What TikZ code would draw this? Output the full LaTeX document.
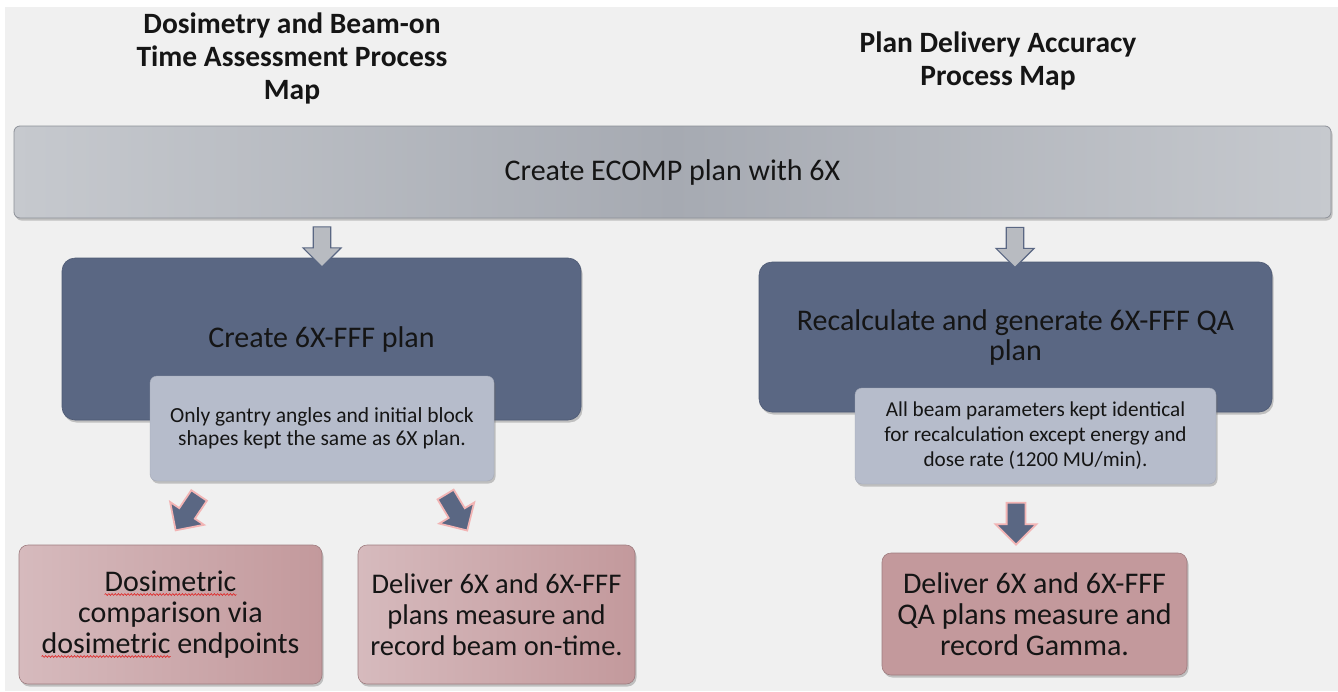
\documentclass[tikz,border=0pt]{standalone}
\usepackage{fontspec}
\setmainfont{Carlito}
\usetikzlibrary{shapes.arrows,shadows,decorations.pathmorphing}

\definecolor{pagebg}{HTML}{F0F0F0}
\definecolor{barlight}{HTML}{C6C9CE}
\definecolor{bardark}{HTML}{A6AAB2}
\definecolor{barline}{HTML}{8C9098}
\definecolor{slate}{HTML}{5A6783}
\definecolor{slateline}{HTML}{4E5A74}
\definecolor{mist}{HTML}{B6BCCB}
\definecolor{rose}{HTML}{C3999C}
\definecolor{roselight}{HTML}{D6BABD}
\definecolor{roseline}{HTML}{9E7C7F}
\definecolor{glow}{HTML}{F2B4B4}
\definecolor{ink}{HTML}{151515}
\definecolor{spellred}{HTML}{E02020}

\newcommand\resultfont{\fontsize{30}{31}\selectfont}
\newlength\wordA
\newlength\wordB
\newlength\lineC
% widths of the marked words, measured once the fonts are ready
\AtBeginDocument{%
  \settowidth\wordA{\resultfont Dosimetric}%
  \settowidth\wordB{\resultfont dosimetric}%
  \settowidth\lineC{\resultfont dosimetric endpoints}}

\tikzset{
  boxshadow/.style={drop shadow={shadow xshift=1.5pt,shadow yshift=-2.5pt,opacity=.35,fill=black!60}},
  titletext/.style={font=\fontsize{29.5}{33}\selectfont\bfseries, align=center, text=ink},
  topbar/.style={rectangle, rounded corners=6pt, draw=barline, line width=.8pt,
    left color=barlight, right color=barlight, middle color=bardark, boxshadow,
    font=\fontsize{30}{32}\selectfont, text=ink},
  stepbox/.style={rectangle, rounded corners=13pt, draw=slateline, line width=.6pt,
    fill=slate, boxshadow, align=center, text=ink, font=\fontsize{30}{30}\selectfont},
  notebox/.style={rectangle, rounded corners=7pt, fill=mist, draw=mist!90!black, line width=.4pt,
    boxshadow, align=center, text=ink, font=\fontsize{21.5}{23}\selectfont},
  resultbox/.style={rectangle, rounded corners=9pt, draw=roseline, line width=.6pt,
    left color=roselight, right color=rose, boxshadow, align=center, text=ink,
    font=\resultfont},
  grayarrow/.style={single arrow, draw=slate, line width=1.2pt, fill=bardark!80!white,
    inner sep=0pt, minimum width=38pt, single arrow head extend=10pt,
    single arrow head indent=0pt, text width=0pt, text height=16pt, text depth=0pt},
  slatearrow/.style={single arrow, draw=glow, line width=1.8pt, fill=slate,
    inner sep=0pt, minimum width=40pt, single arrow head extend=11pt,
    single arrow head indent=0pt, text width=0pt, text height=17pt, text depth=0pt},
  squiggle/.style={draw=spellred, line width=.6pt,
    decorate, decoration={snake, amplitude=.9pt, segment length=3.2pt}}
}

\begin{document}
\begin{tikzpicture}[x=1pt,y=-1pt]
  % page
  \fill[white] (0,0) rectangle (1338,691);
  \fill[pagebg] (5,7) rectangle (1338,691);
  \useasboundingbox (0,0) rectangle (1338,691);

  % column headings
  \node[titletext] (titleL) at (292,58) {Dosimetry and Beam-on\\Time Assessment Process\\Map};
  \node[titletext] (titleR) at (998,61) {Plan Delivery Accuracy\\Process Map};

  % common starting step
  \node[topbar, minimum width=1317pt, minimum height=92pt] (ecomp) at (672.5,172) {Create ECOMP plan with 6X};

  % left branch
  \node[stepbox, minimum width=519pt, minimum height=162pt] (fff) at (321.5,339) {Create 6X-FFF plan};
  \node[notebox, minimum width=344pt, minimum height=105pt] (fffnote) at (322,428.5)
    {Only gantry angles and initial block\\shapes kept the same as 6X plan.};
  \node[resultbox, minimum width=303pt, minimum height=139pt] (dosi) at (170.5,614.5)
    {Dosimetric\\comparison via\\dosimetric endpoints};
  \node[resultbox, minimum width=277pt, minimum height=139pt, font=\fontsize{28.5}{31}\selectfont] (beam) at (496.5,614.5)
    {Deliver 6X and 6X-FFF\\plans measure and\\record beam on-time.};

  % spell-check waves under the two "dosimetric" words
  \draw[squiggle] ([xshift=-.5\wordA, yshift=20pt]dosi.center) -- ([xshift=.5\wordA, yshift=20pt]dosi.center);
  \draw[squiggle] ([xshift=-.5\lineC, yshift=-42pt]dosi.center) -- ([xshift=-.5\lineC+\wordB, yshift=-42pt]dosi.center);

  % right branch
  \node[stepbox, minimum width=513pt, minimum height=150pt] (recalc) at (1015.5,337)
    {Recalculate and generate 6X-FFF QA\\plan};
  \node[notebox, minimum width=361pt, minimum height=96pt, font=\fontsize{21.2}{25}\selectfont] (recnote) at (1035.5,436)
    {All beam parameters kept identical\\for recalculation except energy and\\dose rate (1200 MU/min).};
  \node[resultbox, minimum width=305pt, minimum height=122pt, left color=rose, right color=rose] (gamma) at (1034.5,614)
    {Deliver 6X and 6X-FFF\\QA plans measure and\\record Gamma.};

  % block arrows between the steps
  \node[grayarrow, minimum height=40pt, rotate=-90] (aL) at (322,242.5) {};
  \node[grayarrow, minimum height=40pt, rotate=-90] (aR) at (1015,243) {};
  \node[slatearrow, minimum height=42pt, rotate=236] (aDosi) at (190,509) {};
  \node[slatearrow, minimum height=42pt, rotate=-59] (aBeam) at (454,508.5) {};
  \node[slatearrow, minimum height=42pt, rotate=-90] (aGamma) at (1016,519) {};
\end{tikzpicture}
\end{document}
